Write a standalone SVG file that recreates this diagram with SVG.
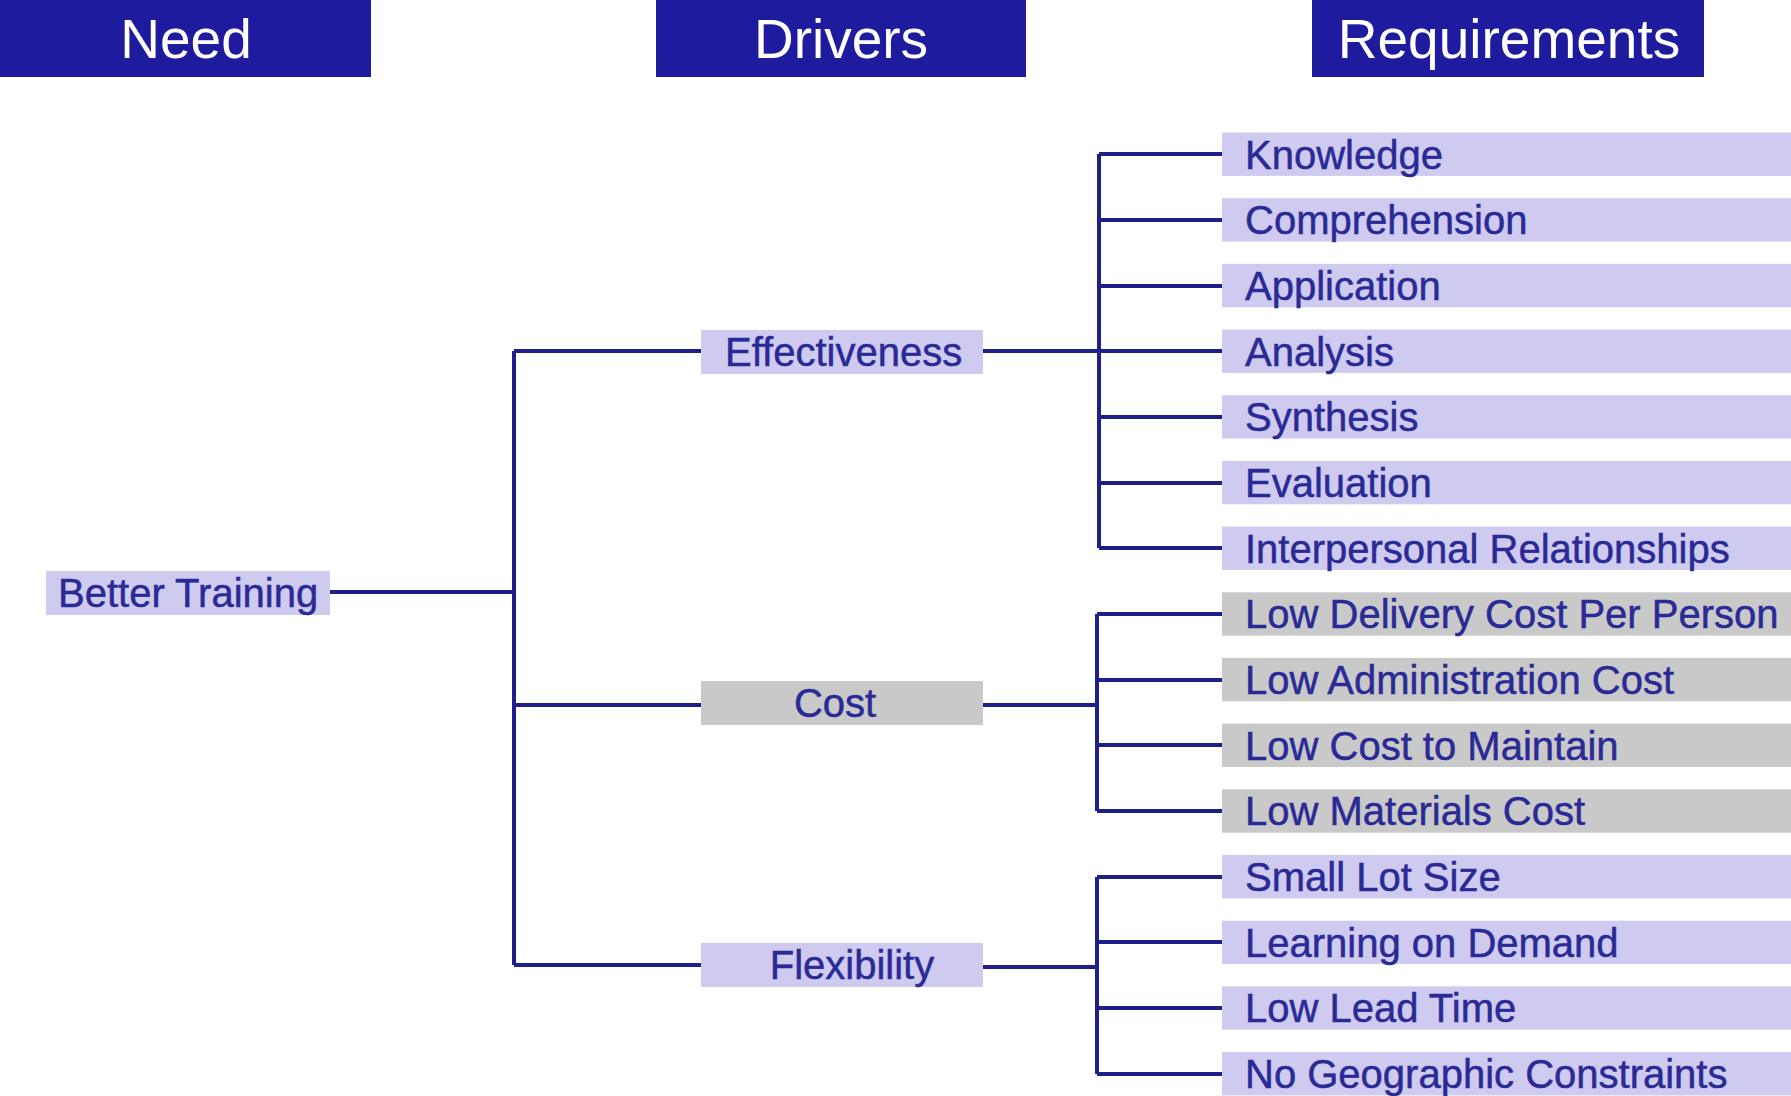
<svg xmlns="http://www.w3.org/2000/svg" width="1791" height="1096" viewBox="0 0 1791 1096">
<style>
.hdr{fill:#1e1b9e}
.htx{font-family:"Liberation Sans",Arial,sans-serif;font-size:55px;fill:#ffffff;text-anchor:middle}
.lb{fill:#cfcbf0}
.gr{fill:#c9c9c9}
.tx{font-family:"Liberation Sans",Arial,sans-serif;font-size:40px;fill:#2a2a96;stroke:#2a2a96;stroke-width:0.5}
.cn{fill:none;stroke:#1f1f8c;stroke-width:4}
</style>
<rect width="1791" height="1096" fill="#ffffff"/>
<g id="hdr-need"><rect class="hdr" x="0" y="0" width="371" height="77"/><text class="htx" x="186" y="58">Need</text></g>
<g id="hdr-drivers"><rect class="hdr" x="656" y="0" width="370" height="77"/><text class="htx" x="841" y="58">Drivers</text></g>
<g id="hdr-req"><rect class="hdr" x="1312" y="0" width="392" height="77"/><text class="htx" x="1509" y="58">Requirements</text></g>

<g id="connectors">
<path class="cn" d="M330 592H514M514 351V965M514 351H701M514 705H701M514 965H701"/>
<path class="cn" d="M983 351H1099M1099 154V548M1099 154H1222M1099 220H1222M1099 286H1222M1099 351H1222M1099 417H1222M1099 483H1222M1099 548H1222"/>
<path class="cn" d="M983 705H1097M1097 614V811M1097 614H1222M1097 680H1222M1097 745H1222M1097 811H1222"/>
<path class="cn" d="M983 967H1097M1097 877V1074M1097 877H1222M1097 942H1222M1097 1008H1222M1097 1074H1222"/>
</g>

<g id="n-better"><rect class="lb" x="46" y="571" width="284" height="44"/><text class="tx" x="58" y="607">Better Training</text></g>
<g id="n-eff"><rect class="lb" x="701" y="330" width="282" height="44"/><text class="tx" x="725" y="366">Effectiveness</text></g>
<g id="n-cost"><rect class="gr" x="701" y="681" width="282" height="44"/><text class="tx" x="835" y="717" text-anchor="middle">Cost</text></g>
<g id="n-flex"><rect class="lb" x="701" y="943" width="282" height="44"/><text class="tx" x="852" y="979" text-anchor="middle">Flexibility</text></g>

<g id="r-knowledge"><rect class="lb" x="1222" y="132.5" width="569" height="43.4"/><text class="tx" x="1245" y="168.5">Knowledge</text></g>
<g id="r-comprehension"><rect class="lb" x="1222" y="198.2" width="569" height="43.4"/><text class="tx" x="1245" y="234.2">Comprehension</text></g>
<g id="r-application"><rect class="lb" x="1222" y="263.9" width="569" height="43.4"/><text class="tx" x="1245" y="299.9">Application</text></g>
<g id="r-analysis"><rect class="lb" x="1222" y="329.5" width="569" height="43.4"/><text class="tx" x="1245" y="365.5">Analysis</text></g>
<g id="r-synthesis"><rect class="lb" x="1222" y="395.2" width="569" height="43.4"/><text class="tx" x="1245" y="431.2">Synthesis</text></g>
<g id="r-evaluation"><rect class="lb" x="1222" y="460.9" width="569" height="43.4"/><text class="tx" x="1245" y="496.9">Evaluation</text></g>
<g id="r-interpersonal"><rect class="lb" x="1222" y="526.6" width="569" height="43.4"/><text class="tx" x="1245" y="562.6">Interpersonal Relationships</text></g>
<g id="r-delivery"><rect class="gr" x="1222" y="592.3" width="569" height="43.4"/><text class="tx" x="1245" y="628.3">Low Delivery Cost Per Person</text></g>
<g id="r-admin"><rect class="gr" x="1222" y="657.9" width="569" height="43.4"/><text class="tx" x="1245" y="693.9">Low Administration Cost</text></g>
<g id="r-maintain"><rect class="gr" x="1222" y="723.6" width="569" height="43.4"/><text class="tx" x="1245" y="759.6">Low Cost to Maintain</text></g>
<g id="r-materials"><rect class="gr" x="1222" y="789.3" width="569" height="43.4"/><text class="tx" x="1245" y="825.3">Low Materials Cost</text></g>
<g id="r-lot"><rect class="lb" x="1222" y="855" width="569" height="43.4"/><text class="tx" x="1245" y="891">Small Lot Size</text></g>
<g id="r-demand"><rect class="lb" x="1222" y="920.7" width="569" height="43.4"/><text class="tx" x="1245" y="956.7">Learning on Demand</text></g>
<g id="r-lead"><rect class="lb" x="1222" y="986.3" width="569" height="43.4"/><text class="tx" x="1245" y="1022.3">Low Lead Time</text></g>
<g id="r-geo"><rect class="lb" x="1222" y="1052" width="569" height="43.4"/><text class="tx" x="1245" y="1088">No Geographic Constraints</text></g>
</svg>
